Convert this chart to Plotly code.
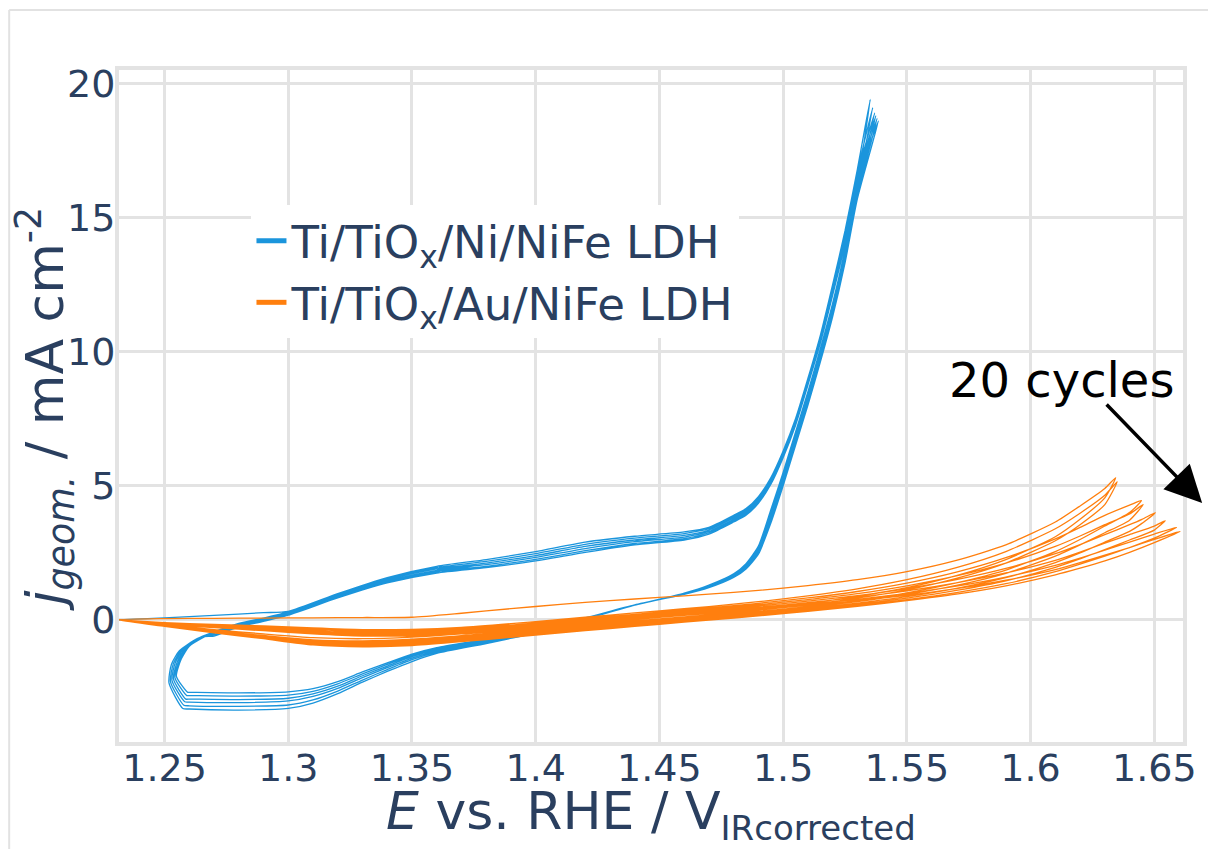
import plotly.graph_objects as go

# ---------------- data ----------------
# Blue: Ti/TiOx/Ni/NiFe LDH
blue_start_E = [1.2316, 1.25, 1.27, 1.29]
blue_start_j = [0.0, 0.08, 0.17, 0.27]

blue_an_E = [1.27, 1.28, 1.29, 1.30, 1.32, 1.34, 1.36, 1.38, 1.40, 1.42, 1.44, 1.46, 1.47,
             1.48, 1.485, 1.49, 1.495, 1.50, 1.505, 1.51, 1.515, 1.52, 1.525, 1.53]
blue_an_j = [
    [-0.40, -0.10, 0.10, 0.32, 0.98, 1.58, 2.00, 2.25, 2.55, 2.90, 3.12, 3.28, 3.45, 3.90, 4.15, 4.6, 5.3, 6.3, 7.5, 9.0, 10.6, 12.5, 14.5, 16.8],
    [-0.44, -0.13, 0.07, 0.30, 0.95, 1.54, 1.95, 2.18, 2.47, 2.82, 3.05, 3.22, 3.40, 3.85, 4.10, 4.55, 5.25, 6.25, 7.45, 8.95, 10.55, 12.45, 14.4, 16.7],
    [-0.46, -0.15, 0.05, 0.28, 0.93, 1.50, 1.90, 2.12, 2.40, 2.74, 2.98, 3.15, 3.35, 3.80, 4.05, 4.5, 5.2, 6.2, 7.4, 8.9, 10.5, 12.4, 14.3, 16.6],
    [-0.50, -0.18, 0.02, 0.25, 0.90, 1.46, 1.85, 2.06, 2.33, 2.66, 2.92, 3.09, 3.30, 3.75, 4.00, 4.45, 5.15, 6.15, 7.35, 8.85, 10.45, 12.3, 14.2, 16.5],
    [-0.55, -0.22, -0.02, 0.22, 0.86, 1.42, 1.80, 2.00, 2.26, 2.58, 2.85, 3.03, 3.25, 3.70, 3.95, 4.4, 5.1, 6.1, 7.3, 8.8, 10.4, 12.2, 14.1, 16.4],
    [-0.60, -0.26, -0.05, 0.18, 0.82, 1.38, 1.75, 1.95, 2.20, 2.52, 2.80, 2.98, 3.20, 3.65, 3.90, 4.35, 5.05, 6.05, 7.25, 8.75, 10.3, 12.1, 14.0, 16.3],
]
blue_top_E = [1.5352, 1.5362, 1.5370, 1.5375, 1.5380, 1.5385]
blue_top_j = [19.4, 19.1, 18.9, 18.8, 18.7, 18.6]

blue_ca_E = [1.53, 1.525, 1.52, 1.515, 1.51, 1.505, 1.50, 1.495, 1.49, 1.485, 1.48, 1.47, 1.46,
             1.44, 1.42, 1.40, 1.38, 1.36, 1.35, 1.34, 1.33, 1.32, 1.31, 1.30, 1.28, 1.26]
blue_ca_j = [
    [16.2, 13.8, 11.8, 10.1, 8.5, 7.0, 5.5, 4.1, 2.75, 2.10, 1.72, 1.30, 1.00, 0.55, 0.02, -0.48, -0.88, -1.25, -1.55, -1.92, -2.32, -2.75, -3.10, -3.30, -3.36, -3.32],
    [16.1, 13.7, 11.7, 10.0, 8.4, 6.9, 5.4, 4.0, 2.68, 2.05, 1.68, 1.28, 0.99, 0.55, 0.04, -0.45, -0.84, -1.20, -1.48, -1.85, -2.24, -2.65, -2.98, -3.17, -3.22, -3.20],
    [16.0, 13.6, 11.6, 9.9, 8.3, 6.8, 5.3, 3.9, 2.60, 2.00, 1.65, 1.25, 0.98, 0.55, 0.05, -0.42, -0.80, -1.15, -1.42, -1.78, -2.15, -2.55, -2.85, -3.02, -3.08, -3.06],
    [15.9, 13.5, 11.5, 9.8, 8.2, 6.7, 5.2, 3.8, 2.55, 1.96, 1.62, 1.23, 0.97, 0.55, 0.06, -0.40, -0.77, -1.11, -1.37, -1.72, -2.08, -2.47, -2.76, -2.92, -2.97, -2.95],
    [15.8, 13.4, 11.4, 9.7, 8.1, 6.6, 5.1, 3.7, 2.50, 1.93, 1.60, 1.21, 0.96, 0.56, 0.07, -0.38, -0.74, -1.07, -1.32, -1.66, -2.01, -2.38, -2.66, -2.80, -2.84, -2.82],
    [15.7, 13.3, 11.3, 9.6, 8.0, 6.5, 5.0, 3.6, 2.45, 1.90, 1.58, 1.20, 0.95, 0.56, 0.08, -0.36, -0.71, -1.03, -1.27, -1.60, -1.94, -2.30, -2.56, -2.68, -2.72, -2.70],
]
blue_vtx_E = [
    [1.2574, 1.2518, 1.2528, 1.2560, 1.2630],
    [1.2578, 1.2524, 1.2536, 1.2568, 1.2636],
    [1.2582, 1.2530, 1.2544, 1.2576, 1.2644],
    [1.2586, 1.2536, 1.2552, 1.2584, 1.2652],
    [1.2590, 1.2542, 1.2560, 1.2592, 1.2660],
    [1.2594, 1.2548, 1.2568, 1.2600, 1.2668],
]
blue_vtx_j = [
    [-3.30, -2.35, -1.65, -1.15, -0.70],
    [-3.18, -2.30, -1.62, -1.12, -0.68],
    [-3.05, -2.25, -1.58, -1.08, -0.66],
    [-2.95, -2.20, -1.55, -1.05, -0.64],
    [-2.82, -2.15, -1.50, -1.02, -0.62],
    [-2.70, -2.10, -1.45, -0.98, -0.60],
]

# Orange: Ti/TiOx/Au/NiFe LDH
orange_fw_E = [1.2316, 1.25, 1.27, 1.29, 1.31, 1.33, 1.35, 1.37, 1.39, 1.41, 1.43,
               1.45, 1.47, 1.49, 1.51, 1.53, 1.55, 1.57, 1.59, 1.61, 1.62, 1.63]
orange_fw_j = [
    [0.0, 0.05, 0.06, 0.07, 0.08, 0.09, 0.10, 0.25, 0.42, 0.58, 0.72, 0.84, 0.96, 1.10, 1.28, 1.50, 1.80, 2.22, 2.80, 3.65, 4.25, 4.90],
    [0.0, -0.10, -0.17, -0.22, -0.30, -0.36, -0.35, -0.28, -0.14, 0.02, 0.18, 0.34, 0.50, 0.68, 0.90, 1.16, 1.50, 1.95, 2.55, 3.40, 3.98, 4.65],
    [0.0, -0.11, -0.19, -0.25, -0.33, -0.40, -0.39, -0.32, -0.19, -0.03, 0.13, 0.29, 0.45, 0.62, 0.82, 1.06, 1.37, 1.78, 2.32, 3.02, 3.45, 3.90],
    [0.0, -0.12, -0.21, -0.28, -0.36, -0.44, -0.43, -0.36, -0.23, -0.07, 0.09, 0.25, 0.40, 0.57, 0.76, 0.98, 1.27, 1.64, 2.12, 2.74, 3.13, 3.55],
    [0.0, -0.13, -0.23, -0.31, -0.40, -0.48, -0.47, -0.40, -0.27, -0.11, 0.05, 0.21, 0.36, 0.52, 0.70, 0.91, 1.17, 1.50, 1.92, 2.47, 2.81, 3.18],
    [0.0, -0.14, -0.25, -0.34, -0.44, -0.52, -0.51, -0.44, -0.31, -0.15, 0.01, 0.17, 0.32, 0.47, 0.64, 0.84, 1.08, 1.38, 1.75, 2.22, 2.53, 2.86],
    [0.0, -0.15, -0.27, -0.37, -0.48, -0.56, -0.55, -0.48, -0.35, -0.19, -0.03, 0.13, 0.28, 0.43, 0.59, 0.77, 0.99, 1.26, 1.60, 2.03, 2.30, 2.60],
    [0.0, -0.16, -0.29, -0.40, -0.52, -0.60, -0.59, -0.52, -0.39, -0.23, -0.07, 0.10, 0.24, 0.39, 0.54, 0.71, 0.92, 1.17, 1.48, 1.88, 2.14, 2.42],
]
orange_tip_E = [
    [1.6344],
    [1.6350],
    [1.64, 1.6448],
    [1.64, 1.6455],
    [1.64, 1.645, 1.6504],
    [1.64, 1.65, 1.6544],
    [1.64, 1.65, 1.6590],
    [1.64, 1.65, 1.6604],
]
orange_tip_j = [
    [5.30],
    [5.15],
    [4.28, 4.45],
    [3.95, 4.30],
    [3.55, 3.75, 4.00],
    [3.18, 3.50, 3.70],
    [2.90, 3.20, 3.45],
    [2.70, 3.00, 3.30],
]
orange_back_E = [
    [],
    [],
    [1.64],
    [1.64],
    [1.645, 1.64],
    [1.65, 1.64],
    [1.65, 1.64],
    [1.65, 1.64],
]
orange_back_j = [
    [],
    [],
    [4.00],
    [3.72],
    [3.60, 3.30],
    [3.35, 2.98],
    [3.05, 2.70],
    [2.88, 2.52],
]
orange_rv_E = [1.63, 1.62, 1.61, 1.59, 1.57, 1.55, 1.53, 1.51, 1.49, 1.47, 1.45,
               1.43, 1.41, 1.39, 1.37, 1.35, 1.33, 1.31, 1.29, 1.27, 1.25, 1.2316]
orange_rv_j = [
    [4.55, 3.75, 3.10, 2.25, 1.65, 1.20, 0.88, 0.62, 0.42, 0.25, 0.10, -0.05, -0.20, -0.36, -0.52, -0.64, -0.70, -0.66, -0.52, -0.36, -0.18, 0.0],
    [4.30, 3.55, 2.95, 2.12, 1.55, 1.12, 0.81, 0.56, 0.36, 0.19, 0.04, -0.11, -0.27, -0.43, -0.59, -0.72, -0.78, -0.74, -0.58, -0.40, -0.20, 0.0],
    [3.50, 3.00, 2.55, 1.86, 1.38, 1.01, 0.73, 0.50, 0.31, 0.14, -0.01, -0.16, -0.32, -0.48, -0.64, -0.77, -0.83, -0.79, -0.61, -0.42, -0.21, 0.0],
    [3.25, 2.80, 2.38, 1.74, 1.29, 0.95, 0.68, 0.46, 0.27, 0.10, -0.05, -0.20, -0.36, -0.52, -0.68, -0.81, -0.87, -0.83, -0.64, -0.44, -0.22, 0.0],
    [2.90, 2.50, 2.14, 1.58, 1.18, 0.87, 0.63, 0.42, 0.24, 0.07, -0.08, -0.23, -0.39, -0.56, -0.72, -0.85, -0.91, -0.86, -0.66, -0.45, -0.22, 0.0],
    [2.62, 2.28, 1.96, 1.46, 1.10, 0.81, 0.58, 0.38, 0.20, 0.04, -0.11, -0.26, -0.42, -0.59, -0.75, -0.89, -0.95, -0.89, -0.68, -0.46, -0.23, 0.0],
    [2.38, 2.08, 1.80, 1.35, 1.02, 0.76, 0.54, 0.35, 0.17, 0.01, -0.14, -0.29, -0.45, -0.62, -0.78, -0.93, -0.98, -0.91, -0.69, -0.47, -0.23, 0.0],
    [2.20, 1.93, 1.68, 1.27, 0.96, 0.72, 0.51, 0.32, 0.15, -0.01, -0.16, -0.32, -0.48, -0.65, -0.81, -0.96, -1.00, -0.93, -0.70, -0.48, -0.24, 0.0],
]

series_names = ["Ti/TiO<sub>x</sub>/Ni/NiFe LDH", "Ti/TiO<sub>x</sub>/Au/NiFe LDH"]
series_colors = ["#1b95dc", "#ff7f0e"]
x_ticks = [1.25, 1.3, 1.35, 1.4, 1.45, 1.5, 1.55, 1.6, 1.65]
y_ticks = [0, 5, 10, 15, 20]
x_title = "<i>E</i> vs. RHE / V<sub><span style='font-size:34px'>IRcorrected</span></sub>"
y_title = "<i>j</i><sub><i>geom.</i></sub> / mA cm<sup>-2</sup>"
note_text = "20 cycles"

# ---------------- assemble paths ----------------
bx, by = list(blue_start_E), list(blue_start_j)
for k in range(len(blue_an_j)):
    for E, j in zip(blue_an_E, blue_an_j[k]):
        if k == 0 and E < 1.30:
            continue
        bx.append(E); by.append(j)
    bx.append(blue_top_E[k]); by.append(blue_top_j[k])
    bx += blue_ca_E; by += blue_ca_j[k]
    bx += blue_vtx_E[k]; by += blue_vtx_j[k]

ox, oy = [], []
for k in range(len(orange_fw_j)):
    ox += orange_fw_E; oy += orange_fw_j[k]
    ox += orange_tip_E[k]; oy += orange_tip_j[k]
    ox += orange_back_E[k]; oy += orange_back_j[k]
    ox += orange_rv_E; oy += orange_rv_j[k]

FONT = "Verdana, DejaVu Sans, sans-serif"
TXT = "#2a3f5f"
GRID = "#e3e3e3"

fig = go.Figure()
fig.add_trace(go.Scatter(x=bx, y=by, mode="lines", showlegend=False,
                         line=dict(color=series_colors[0], width=1.3, shape="spline", smoothing=0.6)))
fig.add_trace(go.Scatter(x=ox, y=oy, mode="lines", showlegend=False,
                         line=dict(color=series_colors[1], width=1.3, shape="spline", smoothing=0.6)))
for name, col in zip(series_names, series_colors):
    fig.add_trace(go.Scatter(x=[None], y=[None], mode="lines", name=name,
                             line=dict(color=col, width=5)))

fig.update_layout(
    width=1208, height=849,
    margin=dict(l=119, r=13, t=70, b=107),
    paper_bgcolor="white", plot_bgcolor="white",
    font=dict(family=FONT, color=TXT, size=38),
    legend=dict(x=0.1245, y=0.799, xanchor="left", yanchor="top",
                bgcolor="white", font=dict(size=45, color=TXT), tracegroupgap=0),
    xaxis=dict(range=[1.2316, 1.6616], tickvals=x_ticks, ticktext=[str(v) for v in x_ticks],
               showgrid=True, gridcolor=GRID, gridwidth=3, zeroline=False,
               showline=True, linecolor=GRID, linewidth=4, mirror=True,
               tickfont=dict(size=38), ticklabelstandoff=-11, ticklabeloverflow="allow"),
    yaxis=dict(range=[-4.55, 20.5], tickvals=y_ticks,
               showgrid=True, gridcolor=GRID, gridwidth=3, zeroline=False,
               showline=True, linecolor=GRID, linewidth=4, mirror=True,
               tickfont=dict(size=38), ticklabelstandoff=-8),
)

# axis titles
fig.add_annotation(xref="paper", yref="paper", x=0.5, y=-0.055, xanchor="center", yanchor="top",
                   text=x_title, showarrow=False, font=dict(size=52, color=TXT))
fig.add_annotation(xref="paper", yref="paper", x=-0.069, y=0.495, xanchor="center", yanchor="middle",
                   text=y_title, textangle=-90, showarrow=False, font=dict(size=52, color=TXT))

# outer light frame of the picture (top and left edges)
fig.add_shape(type="line", xref="paper", yref="paper", x0=-0.1032, x1=1.2, y0=1.0893, y1=1.0893,
              line=dict(color="#e2e2e2", width=2), layer="below")
fig.add_shape(type="line", xref="paper", yref="paper", x0=-0.1032, x1=-0.1032, y0=-0.5, y1=1.0893,
              line=dict(color="#e2e2e2", width=2), layer="below")

# "20 cycles" label and arrow
fig.add_annotation(xref="paper", yref="paper", x=0.886, y=0.539, xanchor="center", yanchor="middle",
                   text=note_text, showarrow=False,
                   font=dict(family="DejaVu Sans, sans-serif", size=48, color="black"))
fig.add_annotation(xref="paper", yref="paper", x=1.018, y=0.3557, text="",
                   showarrow=True, arrowhead=2, arrowsize=2.1, arrowwidth=3.5, arrowcolor="black",
                   axref="pixel", ayref="pixel", ax=-97, ay=-100)

fig.write_html("out.html")
